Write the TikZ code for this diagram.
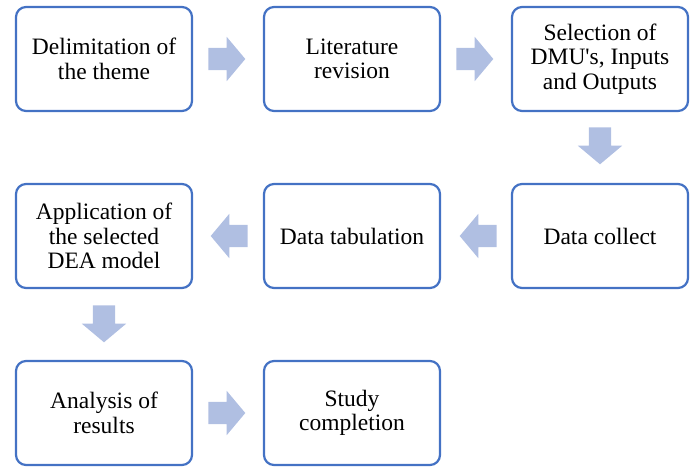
\documentclass[tikz,border=0pt]{standalone}
\usepackage{fontspec}
\setmainfont{Liberation Serif}
\usetikzlibrary{shapes.arrows,calc}
\definecolor{boxline}{RGB}{68,114,196}
\definecolor{arrowfill}{RGB}{176,191,226}
\tikzset{
  stagebox/.style={draw=boxline, line width=2.2pt, rounded corners=10pt,
    minimum width=176pt, minimum height=104pt, align=center, inner sep=2pt,
    font=\fontsize{23.5}{24.5}\selectfont},
  blockarrow/.style={single arrow, fill=arrowfill, draw=none, inner sep=11pt,
    minimum height=37pt, single arrow head extend=11pt,
    single arrow tip angle=100, anchor=tail}
}
\begin{document}
\begin{tikzpicture}[x=1pt,y=-1pt]
  \useasboundingbox (0,0) rectangle (696,468);
  \node[stagebox] (s1) at (104,59) {Delimitation of\\the theme};
  \node[stagebox] (s2) at (352,59) {Literature\\revision};
  \node[stagebox] (s3) at (600,59) {Selection of\\DMU\textquotesingle s, Inputs\\and Outputs};
  \node[stagebox] (s4) at (600,236) {Data collect};
  \node[stagebox] (s5) at (352,236) {Data tabulation};
  \node[stagebox] (s6) at (104,236) {Application of\\the selected\\DEA model};
  \node[stagebox] (s7) at (104,413) {Analysis of\\results};
  \node[stagebox] (s8) at (352,413) {Study\\completion};
  \node[blockarrow] (a12) at ($(s1.east)+(15,0)$) {};
  \node[blockarrow] (a23) at ($(s2.east)+(15,0)$) {};
  \node[blockarrow, shape border rotate=270] (a34) at ($(s3.south)+(0,15)$) {};
  \node[blockarrow, shape border rotate=180] (a45) at ($(s4.west)+(-14,0)$) {};
  \node[blockarrow, shape border rotate=180] (a56) at ($(s5.west)+(-15,0)$) {};
  \node[blockarrow, shape border rotate=270] (a67) at ($(s6.south)+(0,16)$) {};
  \node[blockarrow] (a78) at ($(s7.east)+(15,0)$) {};
\end{tikzpicture}
\end{document}
